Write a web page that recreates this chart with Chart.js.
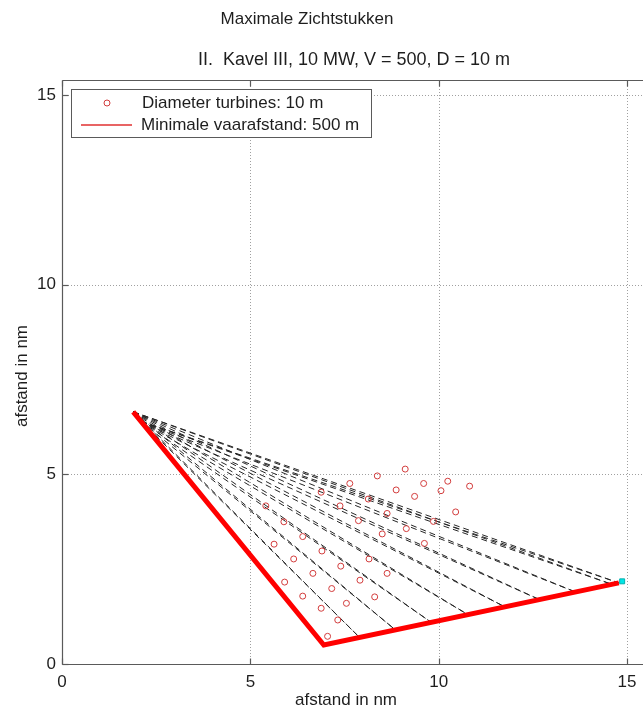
<!DOCTYPE html>
<html><head><meta charset="utf-8">
<script src="https://cdn.jsdelivr.net/npm/chart.js@4/dist/chart.umd.min.js"></script>
<style>html,body{margin:0;padding:0;background:#fff;overflow:hidden}canvas{display:block}</style>
</head><body>
<canvas id="c" width="643" height="712"></canvas>
<script>
const titleText = 'Maximale Zichtstukken';
const subtitleText = 'II.  Kavel III, 10 MW, V = 500, D = 10 m';
const xAxisLabel = 'afstand in nm';
const yAxisLabel = 'afstand in nm';
const xTicks = [0, 5, 10, 15];
const yTicks = [0, 5, 10, 15];
const legendLabels = ['Diameter turbines: 10 m', 'Minimale vaarafstand: 500 m'];

const turbineX = [8.37,7.64,6.88,8.13,5.41,7.38,5.89,7.87,8.50,6.39,5.63,6.90,6.15,8.15,7.40,6.66,5.91,7.91,7.16,8.30,6.39,7.55,6.88,7.32,7.05,9.11,9.60,10.24,8.87,10.82,10.06,9.36,10.45,8.63,9.86,9.14,9.62,8.63];
const turbineY = [4.96,4.76,4.53,4.35,4.17,4.17,3.75,3.78,3.43,3.36,3.16,2.98,2.77,2.77,2.58,2.39,2.16,2.21,1.99,1.77,1.79,1.60,1.47,1.16,0.73,5.14,4.76,4.82,4.59,4.69,4.57,4.42,4.01,3.97,3.76,3.57,3.18,2.39];

const routeX = [1.89, 6.95, 14.78];
const routeY = [6.65, 0.50, 2.14];

const sightOriginX = [1.89, 2.10];
const sightOriginY = [6.65, 6.40];
const sightEndX = [7.90, 8.85, 9.80, 10.78, 11.75, 12.67, 13.63, 14.60, 14.78];
const sightEndY = [0.70, 0.90, 1.10, 1.30, 1.51, 1.70, 1.90, 2.10, 2.14];

const viewpointX = [14.87];
const viewpointY = [2.18];

const FONT = "'Liberation Sans', Arial, sans-serif";
const TXT = '#1e1e1e';

const datasets = [];
datasets.push({
  label: 'viewpoint', data: viewpointX.map((v, i) => ({x: v, y: viewpointY[i]})),
  pointStyle: 'rect', pointRadius: 3.5, backgroundColor: '#00e5e5', borderColor: '#00b0b0', borderWidth: 1, showLine: false, order: 0
});
datasets.push({
  label: legendLabels[0], data: turbineX.map((v, i) => ({x: v, y: turbineY[i]})),
  pointStyle: 'circle', pointRadius: 3, borderColor: '#d23c3c', backgroundColor: 'rgba(0,0,0,0)', borderWidth: 1, showLine: false, order: 1
});
datasets.push({
  label: legendLabels[1], data: routeX.map((v, i) => ({x: v, y: routeY[i]})),
  showLine: true, borderColor: '#ff0000', borderWidth: 5, pointRadius: 0, fill: false, order: 2,
  borderJoinStyle: 'miter', borderCapStyle: 'butt', tension: 0
});
sightOriginX.forEach((ox, k) => {
  sightEndX.forEach((ex, j) => {
    datasets.push({
      label: 'sight', data: [{x: ox, y: sightOriginY[k]}, {x: ex, y: sightEndY[j]}],
      showLine: true, borderColor: '#262626', borderWidth: 1, borderDash: [6, 4], pointRadius: 0, fill: false, order: 3
    });
  });
});

const frame = {
  id: 'frame',
  beforeDatasetsDraw(chart) {
    const {ctx, chartArea: a, scales: {x, y}, width} = chart;
    const line = (x1, y1, x2, y2) => { ctx.beginPath(); ctx.moveTo(x1, y1); ctx.lineTo(x2, y2); ctx.stroke(); };
    ctx.save();
    ctx.strokeStyle = '#a0a0a0'; ctx.lineWidth = 1; ctx.setLineDash([1, 2]);
    xTicks.forEach(v => { if (v === 0) return; const px = Math.round(x.getPixelForValue(v)) + 0.5; line(px, a.top, px, a.bottom); });
    yTicks.forEach(v => { if (v === 0) return; const py = Math.round(y.getPixelForValue(v)) + 0.5; line(a.left, py, width, py); });
    ctx.setLineDash([]);
    ctx.strokeStyle = '#5a5a5a'; ctx.lineWidth = 1.2;
    const L = Math.round(a.left) + 0.5, T = Math.round(a.top) + 0.5, B = Math.round(a.bottom) + 0.5;
    line(L, T, width, T);
    line(L, T, L, B);
    line(L, B, width, B);
    xTicks.forEach(v => { const px = Math.round(x.getPixelForValue(v)) + 0.5; line(px, B, px, B - 6); line(px, T, px, T + 6); });
    yTicks.forEach(v => { const py = Math.round(y.getPixelForValue(v)) + 0.5; line(L, py, L + 6, py); });
    ctx.restore();
  },
  afterDraw(chart) {
    const {ctx} = chart;
    ctx.save();
    ctx.fillStyle = TXT;
    ctx.textBaseline = 'middle';
    ctx.textAlign = 'center';
    ctx.font = '17px ' + FONT;
    ctx.fillText(titleText, 307, 19);
    ctx.font = '18px ' + FONT;
    ctx.fillText(subtitleText, 354, 60);
    ctx.font = '17px ' + FONT;
    ctx.fillText(xAxisLabel, 346, 700);
    ctx.save();
    ctx.translate(22, 376); ctx.rotate(-Math.PI / 2);
    ctx.fillText(yAxisLabel, 0, 0);
    ctx.restore();
    // legend
    ctx.fillStyle = '#ffffff';
    ctx.fillRect(71, 89, 301, 49);
    ctx.strokeStyle = '#5a5a5a'; ctx.lineWidth = 1;
    ctx.strokeRect(71.5, 89.5, 300, 48);
    ctx.strokeStyle = '#d23c3c';
    ctx.beginPath(); ctx.arc(107, 103, 3, 0, Math.PI * 2); ctx.stroke();
    ctx.strokeStyle = '#e03030'; ctx.lineWidth = 1.5;
    ctx.beginPath(); ctx.moveTo(81, 125); ctx.lineTo(132, 125); ctx.stroke();
    ctx.fillStyle = TXT; ctx.textAlign = 'left';
    ctx.font = '17px ' + FONT;
    ctx.fillText(legendLabels[0], 142, 103);
    ctx.fillText(legendLabels[1], 141, 125);
    ctx.restore();
  }
};

new Chart(document.getElementById('c'), {
  type: 'scatter',
  data: {datasets},
  options: {
    responsive: false, animation: false, devicePixelRatio: 1,
    layout: {padding: {left: 0, top: 80, right: 0, bottom: 0}},
    plugins: {legend: {display: false}, tooltip: {enabled: false}, title: {display: false}},
    scales: {
      x: {
        type: 'linear', min: 0, max: 15.29, bounds: 'data',
        afterBuildTicks: s => { s.ticks = xTicks.map(v => ({value: v})); },
        afterFit: s => { s.height = 48; s.paddingLeft = 0; s.paddingRight = 0; },
        grid: {display: false, drawTicks: false}, border: {display: false},
        ticks: {color: TXT, font: {family: FONT, size: 17}, padding: 8, maxRotation: 0, autoSkip: false}
      },
      y: {
        type: 'linear', min: 0, max: 15.4, bounds: 'data',
        afterBuildTicks: s => { s.ticks = yTicks.map(v => ({value: v})); },
        afterFit: s => { s.width = 62; s.paddingTop = 0; s.paddingBottom = 0; },
        grid: {display: false, drawTicks: false}, border: {display: false},
        ticks: {color: TXT, font: {family: FONT, size: 17}, padding: 6, autoSkip: false}
      }
    }
  },
  plugins: [frame]
});
</script>
</body></html>
